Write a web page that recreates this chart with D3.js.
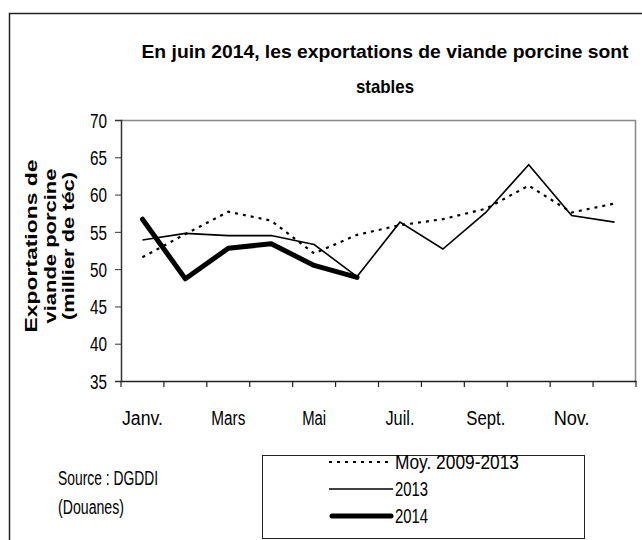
<!DOCTYPE html>
<html><head><meta charset="utf-8">
<script src="https://cdn.jsdelivr.net/npm/d3@7"></script>
<style>body{margin:0;background:#fff}svg{display:block}text{font-family:"Liberation Sans",Arial,sans-serif;fill:#000}</style>
</head><body>
<script>
const months = ["Janv.","Févr.","Mars","Avr.","Mai","Juin","Juil.","Août","Sept.","Oct.","Nov.","Déc."];
const tickMonths = ["Janv.","Mars","Mai","Juil.","Sept.","Nov."];
const moy = [51.6,54.7,57.7,56.5,52.1,54.6,55.9,56.7,58.1,61.2,57.6,58.8];
const y2013 = [53.9,54.8,54.5,54.5,53.3,49.0,56.3,52.7,57.6,64.0,57.2,56.3];
const y2014 = [56.7,48.7,52.8,53.4,50.5,48.9];
const yTicks = [35,40,45,50,55,60,65,70];
const titleLines = ["En juin 2014,  les exportations de viande porcine sont","stables"];
const yTitle = ["Exportations de","viande porcine","(millier de téc)"];
const legendLabels = ["Moy. 2009-2013","2013","2014"];
const sourceLines = ["Source : DGDDI","(Douanes)"];

const W=642,H=540;
const svg=d3.select("body").append("svg").attr("width",W).attr("height",H);
function squeeze(sel,w){sel.each(function(d,i){const t=typeof w==="function"?w(d,i):w;d3.select(this).attr("textLength",t).attr("lengthAdjust","spacingAndGlyphs");});}

// outer frame
svg.append("path").attr("d","M9.5,540 V13.5 H642").attr("fill","none").attr("stroke","#222").attr("stroke-width",1.5);

const x=d3.scaleBand().domain(months).range([121,636]);
const y=d3.scaleLinear().domain([35,70]).range([381,120]);
const cx=m=>x(m)+x.bandwidth()/2;

// plot frame (grey top/right)
svg.append("path").attr("d",`M121,120.5 H635.5 V381`).attr("fill","none").attr("stroke","#888").attr("stroke-width",1.5);

// y axis
const ya=svg.append("g").attr("transform","translate(121,0)").call(d3.axisLeft(y).tickValues(yTicks).tickSize(6).tickPadding(8));
ya.select(".domain").attr("stroke","#333").attr("stroke-width",1.5);
ya.selectAll(".tick line").attr("stroke","#333");
ya.selectAll("text").attr("font-size",20).attr("font-family","Liberation Sans").attr("dy","0.36em").attr("fill","#000");
squeeze(ya.selectAll("text"),17);

// x axis
const xa=svg.append("g").attr("transform","translate(0,381)").call(d3.axisBottom(x).tickValues([]).tickSizeOuter(0));
xa.select(".domain").attr("stroke","#222").attr("stroke-width",1.5);
const bounds=months.map(m=>x(m)).concat([636]);
xa.selectAll(".bt").data(bounds).enter().append("line").attr("x1",d=>d).attr("x2",d=>d).attr("y1",0).attr("y2",6).attr("stroke","#222").attr("stroke-width",1.2);
const xlW={"Janv.":41,"Mars":34,"Mai":24,"Juil.":29,"Sept.":39,"Nov.":36};
const xl=svg.selectAll(".xl").data(tickMonths).enter().append("text").attr("x",d=>cx(d)).attr("y",425).attr("text-anchor","middle").attr("font-size",20).text(d=>d);
squeeze(xl,d=>xlW[d]);

// lines
const line=d3.line().x((d,i)=>cx(months[i])).y(d=>y(d));
svg.append("path").datum(moy).attr("d",line).attr("fill","none").attr("stroke","#000").attr("stroke-width",2.2).attr("stroke-dasharray","3,5");
svg.append("path").datum(y2013).attr("d",line).attr("fill","none").attr("stroke","#000").attr("stroke-width",1.6);
svg.append("path").datum(y2014).attr("d",line).attr("fill","none").attr("stroke","#000").attr("stroke-width",5).attr("stroke-linejoin","round").attr("stroke-linecap","round");

// title
const tt=svg.selectAll(".tt").data(titleLines).enter().append("text").attr("x",385).attr("y",(d,i)=>57.5+i*35).attr("text-anchor","middle").attr("font-size",18.5).attr("font-weight","bold").text(d=>d);
squeeze(tt,(d,i)=>i==0?487:58);

// y title
const yt=svg.selectAll(".yt").data(yTitle).enter().append("text").attr("transform",(d,i)=>`translate(${37+i*18.5},246) rotate(-90)`).attr("text-anchor","middle").attr("font-size",17).attr("font-weight","bold").text(d=>d);
squeeze(yt,(d,i)=>[173,155,148][i]);

// source
const src=svg.selectAll(".src").data(sourceLines).enter().append("text").attr("x",58).attr("y",(d,i)=>485+i*29).attr("font-size",20).text(d=>d);
squeeze(src,(d,i)=>[100,66][i]);

// legend
svg.append("rect").attr("x",262.5).attr("y",455.5).attr("width",322).attr("height",83).attr("fill","#fff").attr("stroke","#222").attr("stroke-width",1);
const styles=[{w:2.2,da:"3,5",cap:"butt"},{w:1.6,da:null,cap:"butt"},{w:5,da:null,cap:"round"}];
const lg=svg.selectAll(".lg").data(legendLabels).enter().append("g").attr("transform",(d,i)=>`translate(0,${462+i*27})`);
lg.append("line").attr("x1",(d,i)=>i==2?332:329).attr("x2",(d,i)=>i==2?391:393).attr("y1",0).attr("y2",0).attr("stroke","#000").attr("stroke-width",(d,i)=>styles[i].w).attr("stroke-dasharray",(d,i)=>styles[i].da).attr("stroke-linecap",(d,i)=>styles[i].cap);
const lt=lg.append("text").attr("x",395).attr("y",7).attr("font-size",20).text(d=>d);
squeeze(lt,(d,i)=>[124,33,33][i]);
</script>
</body></html>
